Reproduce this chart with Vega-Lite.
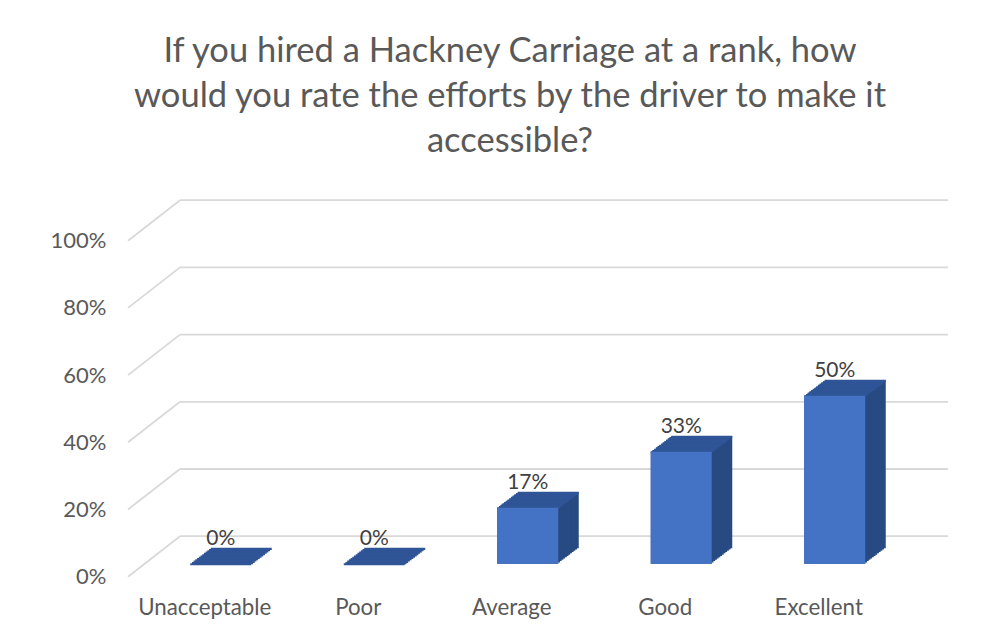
{
  "$schema": "https://vega.github.io/schema/vega-lite/v6.json",
  "width": 820,
  "height": 377,
  "autosize": {"type": "none"},
  "padding": {"left": 128, "top": 200, "right": 56, "bottom": 62},
  "background": "white",
  "title": {
    "text": ["If you hired a Hackney Carriage at a rank, how", "would you rate the efforts by the driver to make it", "accessible?"],
    "font": "Lato", "fontSize": 34.5, "fontWeight": "normal", "color": "#595959",
    "lineHeight": 45, "anchor": "middle", "frame": "group", "dx": -28, "offset": 40
  },
  "config": {"view": {"stroke": null}, "font": "Lato"},
  "datasets": {
    "ratings": [
      {"rating": "Unacceptable", "value": 0},
      {"rating": "Poor", "value": 0},
      {"rating": "Average", "value": 0.1667},
      {"rating": "Good", "value": 0.3333},
      {"rating": "Excellent", "value": 0.5}
    ],
    "grid": [{"value": 0}, {"value": 0.2}, {"value": 0.4}, {"value": 0.6}, {"value": 0.8}, {"value": 1}]
  },
  "resolve": {"scale": {"x": "independent"}},
  "layer": [
    {
      "data": {"name": "grid"},
      "encoding": {
        "y": {"field": "value", "type": "quantitative",
          "scale": {"domain": [0, 1], "range": [376.7, 40.7], "nice": false, "zero": true},
          "axis": {"orient": "left", "values": [0, 0.2, 0.4, 0.6, 0.8, 1], "format": ".0%", "domain": false, "ticks": false, "grid": false,
            "labelPadding": 22, "labelFontSize": 22, "labelFont": "Lato", "labelColor": "#595959", "title": null}}
      },
      "layer": [
        {"mark": {"type": "rule", "color": "#D9D9D9", "strokeWidth": 1.8, "yOffset": -40.5},
         "encoding": {"x": {"datum": 1, "type": "quantitative", "scale": {"domain": [0, 1], "range": [0, 52]}, "axis": null},
                      "x2": {"value": "width"}}},
        {"mark": {"type": "rule", "color": "#D9D9D9", "strokeWidth": 1.8, "y2Offset": -40.5},
         "encoding": {"x": {"datum": 0, "type": "quantitative"}, "x2": {"datum": 1}, "y2": {"field": "value"}}}
      ]
    },
    {
      "data": {"name": "ratings"},
      "encoding": {
        "x": {"field": "rating", "type": "nominal", "sort": null,
          "scale": {"range": [0, 767.5], "paddingInner": 0.6026, "paddingOuter": 0.3013},
          "axis": {"orient": "bottom", "domain": false, "ticks": false, "labelAngle": 0, "labelPadding": 37, "labelBaseline": "alphabetic",
            "labelFontSize": 22.3, "labelFont": "Lato", "labelColor": "#595959", "title": null}},
        "y": {"field": "value", "type": "quantitative",
          "axis": {"orient": "left", "values": [0, 0.2, 0.4, 0.6, 0.8, 1], "format": ".0%", "domain": false, "ticks": false, "grid": false,
            "labelPadding": 22, "labelFontSize": 22, "labelFont": "Lato", "labelColor": "#595959", "title": null}}
      },
      "layer": [
        {"mark": {"type": "bar", "color": "#284A82", "xOffset": 36.5, "yOffset": -28.5, "y2Offset": -28.5}},
        {"mark": {"type": "bar", "color": "#284A82", "xOffset": 34.79, "yOffset": -27.21, "y2Offset": -27.21}},
        {"mark": {"type": "bar", "color": "#284A82", "xOffset": 33.08, "yOffset": -25.92, "y2Offset": -25.92}},
        {"mark": {"type": "bar", "color": "#284A82", "xOffset": 31.38, "yOffset": -24.63, "y2Offset": -24.63}},
        {"mark": {"type": "bar", "color": "#284A82", "xOffset": 29.67, "yOffset": -23.33, "y2Offset": -23.33}},
        {"mark": {"type": "bar", "color": "#284A82", "xOffset": 27.96, "yOffset": -22.04, "y2Offset": -22.04}},
        {"mark": {"type": "bar", "color": "#284A82", "xOffset": 26.25, "yOffset": -20.75, "y2Offset": -20.75}},
        {"mark": {"type": "bar", "color": "#284A82", "xOffset": 24.54, "yOffset": -19.46, "y2Offset": -19.46}},
        {"mark": {"type": "bar", "color": "#284A82", "xOffset": 22.83, "yOffset": -18.17, "y2Offset": -18.17}},
        {"mark": {"type": "bar", "color": "#284A82", "xOffset": 21.13, "yOffset": -16.88, "y2Offset": -16.88}},
        {"mark": {"type": "bar", "color": "#284A82", "xOffset": 19.42, "yOffset": -15.58, "y2Offset": -15.58}},
        {"mark": {"type": "bar", "color": "#284A82", "xOffset": 17.71, "yOffset": -14.29, "y2Offset": -14.29}},
        {"mark": {"type": "bar", "color": "#284A82", "xOffset": 16, "yOffset": -13, "y2Offset": -13}},
        {"mark": {"type": "bar", "color": "#2F5597", "xOffset": 36.5, "yOffset": -29.0, "y2Offset": -26.7}, "encoding": {"y2": {"field": "value"}}},
        {"mark": {"type": "bar", "color": "#2F5597", "xOffset": 34.79, "yOffset": -27.71, "y2Offset": -25.41}, "encoding": {"y2": {"field": "value"}}},
        {"mark": {"type": "bar", "color": "#2F5597", "xOffset": 33.08, "yOffset": -26.42, "y2Offset": -24.12}, "encoding": {"y2": {"field": "value"}}},
        {"mark": {"type": "bar", "color": "#2F5597", "xOffset": 31.38, "yOffset": -25.13, "y2Offset": -22.83}, "encoding": {"y2": {"field": "value"}}},
        {"mark": {"type": "bar", "color": "#2F5597", "xOffset": 29.67, "yOffset": -23.83, "y2Offset": -21.53}, "encoding": {"y2": {"field": "value"}}},
        {"mark": {"type": "bar", "color": "#2F5597", "xOffset": 27.96, "yOffset": -22.54, "y2Offset": -20.24}, "encoding": {"y2": {"field": "value"}}},
        {"mark": {"type": "bar", "color": "#2F5597", "xOffset": 26.25, "yOffset": -21.25, "y2Offset": -18.95}, "encoding": {"y2": {"field": "value"}}},
        {"mark": {"type": "bar", "color": "#2F5597", "xOffset": 24.54, "yOffset": -19.96, "y2Offset": -17.66}, "encoding": {"y2": {"field": "value"}}},
        {"mark": {"type": "bar", "color": "#2F5597", "xOffset": 22.83, "yOffset": -18.67, "y2Offset": -16.37}, "encoding": {"y2": {"field": "value"}}},
        {"mark": {"type": "bar", "color": "#2F5597", "xOffset": 21.13, "yOffset": -17.38, "y2Offset": -15.08}, "encoding": {"y2": {"field": "value"}}},
        {"mark": {"type": "bar", "color": "#2F5597", "xOffset": 19.42, "yOffset": -16.08, "y2Offset": -13.78}, "encoding": {"y2": {"field": "value"}}},
        {"mark": {"type": "bar", "color": "#2F5597", "xOffset": 17.71, "yOffset": -14.79, "y2Offset": -12.49}, "encoding": {"y2": {"field": "value"}}},
        {"mark": {"type": "bar", "color": "#2F5597", "xOffset": 16, "yOffset": -13.5, "y2Offset": -11.4}, "encoding": {"y2": {"field": "value"}}},
        {"mark": {"type": "bar", "color": "#4472C4", "xOffset": 16, "yOffset": -13, "y2Offset": -13}},
        {"mark": {"type": "text", "font": "Lato", "fontSize": 21, "color": "#404040", "xOffset": 16, "yOffset": -31.5, "baseline": "alphabetic"},
         "encoding": {"text": {"field": "value", "type": "quantitative", "format": ".0%"}}}
      ]
    }
  ]
}
